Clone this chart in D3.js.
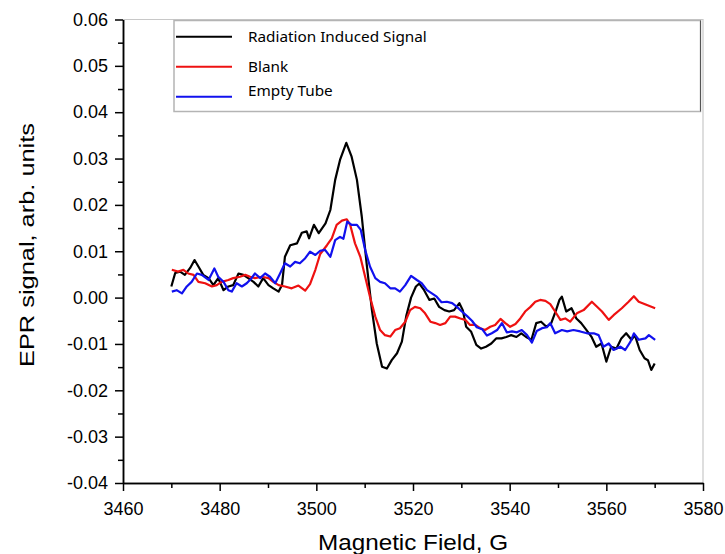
<!DOCTYPE html>
<html>
<head>
<meta charset="utf-8">
<script src="https://cdn.jsdelivr.net/npm/d3@7"></script>
<style>
  body { margin: 0; background: #fff; }
  .tick text { font-family: "Liberation Sans", Arial, sans-serif; font-size: 18px; fill: #000; }
  .axis path, .axis line { stroke: #000; stroke-width: 1.5px; }
  .legend text { font-family: "Noto Sans", "Open Sans", sans-serif; font-size: 15.3px; fill: #000; }
</style>
</head>
<body>
<div id="chart"></div>
<script>
// Set up SVG chart
var svgWidth = 725;
var svgHeight = 554;

var margin = { top: 19.5, right: 22, bottom: 71, left: 123 };
var chartWidth = svgWidth - margin.left - margin.right;
var chartHeight = svgHeight - margin.top - margin.bottom;

// Data (field in G, signal in arb. units)
var radiationField = [3470.0, 3470.8, 3471.8, 3472.8, 3473.9, 3474.8, 3475.6, 3476.6, 3477.7, 3478.7, 3479.7, 3480.8, 3481.8, 3482.8, 3483.9, 3484.9, 3485.9, 3487.0, 3488.0, 3489.0, 3490.1, 3491.1, 3492.2, 3492.9, 3493.5, 3494.6, 3496.0, 3497.0, 3498.0, 3498.5, 3499.5, 3500.5, 3501.9, 3502.9, 3503.9, 3504.9, 3506.2, 3507.3, 3508.4, 3509.4, 3510.4, 3511.5, 3512.5, 3513.6, 3514.6, 3515.6, 3516.7, 3517.7, 3518.6, 3519.6, 3520.6, 3521.3, 3522.3, 3523.4, 3524.4, 3525.4, 3526.5, 3527.5, 3528.5, 3529.6, 3530.3, 3531.0, 3532.0, 3533.1, 3534.1, 3535.1, 3536.2, 3537.2, 3538.3, 3539.3, 3540.3, 3541.4, 3542.4, 3543.4, 3544.5, 3545.5, 3546.5, 3547.6, 3548.6, 3549.6, 3550.3, 3550.8, 3551.7, 3552.8, 3553.8, 3554.8, 3555.9, 3556.9, 3557.9, 3559.0, 3560.0, 3561.0, 3562.1, 3563.1, 3564.1, 3565.2, 3565.9, 3566.9, 3567.9, 3568.6, 3569.3, 3570.0];
var radiationSignal = [0.0024, 0.0053, 0.0056, 0.0049, 0.0064, 0.0081, 0.0067, 0.0049, 0.0042, 0.0027, 0.0042, 0.0016, 0.0024, 0.0027, 0.0052, 0.0049, 0.0042, 0.0034, 0.0024, 0.0042, 0.0027, 0.0020, 0.0013, 0.0027, 0.0088, 0.0113, 0.0117, 0.0140, 0.0143, 0.0128, 0.0157, 0.0139, 0.0160, 0.0189, 0.0254, 0.0297, 0.0334, 0.0304, 0.0254, 0.0175, 0.0074, -0.0027, -0.0099, -0.0149, -0.0153, -0.0135, -0.0120, -0.0095, -0.0040, 0.0000, 0.0024, 0.0030, 0.0016, -0.0005, -0.0002, -0.0020, -0.0027, -0.0030, -0.0027, -0.0012, -0.0027, -0.0063, -0.0073, -0.0102, -0.0110, -0.0106, -0.0099, -0.0088, -0.0088, -0.0085, -0.0081, -0.0085, -0.0077, -0.0085, -0.0091, -0.0055, -0.0052, -0.0063, -0.0055, -0.0027, -0.0005, 0.0002, -0.0030, -0.0023, -0.0045, -0.0055, -0.0070, -0.0084, -0.0106, -0.0099, -0.0138, -0.0106, -0.0110, -0.0088, -0.0077, -0.0091, -0.0081, -0.0113, -0.0131, -0.0135, -0.0156, -0.0142];

var blankField = [3470.1, 3471.4, 3472.5, 3473.5, 3474.6, 3475.6, 3477.0, 3478.4, 3479.4, 3480.4, 3481.8, 3482.8, 3484.2, 3485.3, 3486.3, 3487.3, 3488.7, 3490.1, 3491.1, 3492.2, 3493.5, 3494.9, 3496.3, 3497.7, 3498.7, 3499.8, 3500.8, 3502.2, 3503.2, 3504.2, 3505.3, 3506.3, 3507.0, 3508.0, 3509.1, 3510.1, 3511.1, 3512.2, 3513.2, 3514.2, 3515.3, 3516.3, 3517.3, 3518.4, 3519.4, 3520.4, 3521.5, 3522.5, 3523.6, 3524.6, 3525.6, 3526.7, 3527.7, 3528.7, 3529.8, 3530.8, 3531.8, 3532.9, 3533.9, 3534.9, 3536.0, 3537.0, 3538.1, 3539.1, 3540.1, 3541.2, 3542.2, 3543.2, 3544.3, 3545.3, 3546.3, 3547.4, 3548.4, 3549.4, 3550.5, 3551.5, 3552.5, 3553.9, 3555.3, 3557.0, 3557.7, 3559.1, 3560.5, 3561.5, 3563.2, 3564.6, 3565.7, 3566.7, 3568.4, 3570.1];
var blankSignal = [0.0060, 0.0056, 0.0060, 0.0052, 0.0049, 0.0034, 0.0031, 0.0024, 0.0027, 0.0034, 0.0038, 0.0042, 0.0045, 0.0049, 0.0045, 0.0042, 0.0045, 0.0042, 0.0034, 0.0027, 0.0024, 0.0020, 0.0026, 0.0015, 0.0029, 0.0060, 0.0094, 0.0113, 0.0128, 0.0157, 0.0166, 0.0169, 0.0157, 0.0117, 0.0088, 0.0045, 0.0002, -0.0041, -0.0070, -0.0081, -0.0084, -0.0070, -0.0066, -0.0052, -0.0027, -0.0020, -0.0023, -0.0034, -0.0052, -0.0055, -0.0059, -0.0055, -0.0041, -0.0041, -0.0045, -0.0048, -0.0059, -0.0059, -0.0066, -0.0070, -0.0063, -0.0059, -0.0046, -0.0055, -0.0063, -0.0057, -0.0045, -0.0030, -0.0020, -0.0009, -0.0005, -0.0007, -0.0014, -0.0030, -0.0048, -0.0045, -0.0052, -0.0034, -0.0027, -0.0009, -0.0016, -0.0030, -0.0048, -0.0038, -0.0023, -0.0009, 0.0003, -0.0009, -0.0016, -0.0023];

var tubeField = [3470.1, 3471.1, 3472.2, 3473.2, 3474.2, 3475.3, 3476.3, 3477.7, 3478.9, 3479.7, 3480.8, 3481.8, 3482.5, 3483.5, 3484.6, 3485.6, 3486.6, 3487.3, 3488.4, 3489.4, 3490.4, 3491.5, 3492.5, 3493.5, 3494.6, 3495.6, 3496.6, 3497.7, 3498.7, 3499.8, 3500.8, 3501.8, 3502.9, 3503.9, 3504.9, 3505.6, 3506.4, 3507.3, 3508.4, 3509.2, 3510.1, 3511.1, 3512.2, 3513.2, 3514.2, 3515.3, 3516.3, 3517.3, 3518.4, 3519.6, 3520.8, 3521.8, 3522.9, 3523.9, 3524.9, 3525.9, 3527.0, 3528.1, 3529.1, 3530.1, 3531.2, 3532.2, 3533.2, 3534.3, 3535.3, 3536.3, 3537.4, 3538.4, 3539.4, 3540.5, 3541.5, 3542.5, 3543.6, 3544.6, 3545.6, 3546.7, 3547.7, 3548.4, 3549.4, 3550.8, 3551.9, 3553.2, 3554.6, 3556.0, 3557.4, 3558.4, 3559.4, 3560.5, 3561.5, 3562.9, 3563.9, 3565.0, 3565.7, 3566.7, 3568.1, 3568.8, 3570.1];
var tubeSignal = [0.0013, 0.0016, 0.0009, 0.0024, 0.0034, 0.0052, 0.0049, 0.0038, 0.0063, 0.0045, 0.0034, 0.0016, 0.0013, 0.0031, 0.0024, 0.0031, 0.0042, 0.0052, 0.0042, 0.0052, 0.0045, 0.0031, 0.0052, 0.0074, 0.0067, 0.0077, 0.0074, 0.0085, 0.0099, 0.0092, 0.0101, 0.0103, 0.0088, 0.0124, 0.0131, 0.0127, 0.0164, 0.0157, 0.0157, 0.0146, 0.0103, 0.0067, 0.0042, 0.0034, 0.0031, 0.0020, 0.0020, 0.0013, 0.0027, 0.0047, 0.0038, 0.0031, 0.0016, 0.0009, 0.0002, -0.0010, -0.0009, -0.0012, -0.0020, -0.0030, -0.0040, -0.0050, -0.0064, -0.0068, -0.0082, -0.0077, -0.0070, -0.0055, -0.0075, -0.0073, -0.0075, -0.0070, -0.0081, -0.0097, -0.0072, -0.0066, -0.0064, -0.0055, -0.0077, -0.0070, -0.0073, -0.0070, -0.0073, -0.0077, -0.0077, -0.0081, -0.0106, -0.0099, -0.0113, -0.0106, -0.0113, -0.0095, -0.0077, -0.0091, -0.0088, -0.0081, -0.0091];

// Tick values
var xTicks = [3460, 3480, 3500, 3520, 3540, 3560, 3580];
var xMinorTicks = [3470, 3490, 3510, 3530, 3550, 3570];
var yTicks = [-0.04, -0.03, -0.02, -0.01, 0.00, 0.01, 0.02, 0.03, 0.04, 0.05, 0.06];
var yMinorTicks = [-0.035, -0.025, -0.015, -0.005, 0.005, 0.015, 0.025, 0.035, 0.045, 0.055];

var seriesNames = ["Radiation Induced Signal", "Blank", "Empty Tube"];
var seriesColors = ["#000000", "#ee1111", "#1111ee"];

// Create an SVG element wrapper
var svg = d3.select("#chart")
  .append("svg")
  .attr("width", svgWidth)
  .attr("height", svgHeight);

var chartGroup = svg.append("g")
  .attr("transform", `translate(${margin.left}, ${margin.top})`);

// Scales
var xLinearScale = d3.scaleLinear().domain([3460, 3580]).range([0, chartWidth]);
var yLinearScale = d3.scaleLinear().domain([-0.04, 0.06]).range([chartHeight, 0]);

// Light frame on top and right
chartGroup.append("path")
  .attr("d", `M0,0H${chartWidth}V${chartHeight}`)
  .attr("fill", "none")
  .attr("stroke", "#c8c8c8")
  .attr("stroke-width", 1.2);

// Curves
var lineGen = d3.line()
  .x(d => xLinearScale(d[0]))
  .y(d => yLinearScale(d[1]));

var series = [
  d3.zip(radiationField, radiationSignal),
  d3.zip(blankField, blankSignal),
  d3.zip(tubeField, tubeSignal)
];

series.forEach(function(pts, i) {
  chartGroup.append("path")
    .datum(pts)
    .attr("d", lineGen)
    .attr("fill", "none")
    .attr("stroke", seriesColors[i])
    .attr("stroke-width", 2.2)
    .attr("stroke-linejoin", "round");
});

// Axes (major + minor ticks)
var xAxis = chartGroup.append("g")
  .attr("class", "axis")
  .attr("transform", `translate(0, ${chartHeight})`)
  .call(d3.axisBottom(xLinearScale).tickValues(xTicks).tickSize(8).tickSizeOuter(0).tickPadding(11).tickFormat(d3.format("d")));

chartGroup.append("g")
  .attr("class", "axis")
  .attr("transform", `translate(0, ${chartHeight})`)
  .call(d3.axisBottom(xLinearScale).tickValues(xMinorTicks).tickSize(5).tickSizeOuter(0).tickFormat(""));

var yAxis = chartGroup.append("g")
  .attr("class", "axis")
  .call(d3.axisLeft(yLinearScale).tickValues(yTicks).tickSize(8).tickSizeOuter(0).tickPadding(7).tickFormat(d => d.toFixed(2)));

chartGroup.append("g")
  .attr("class", "axis")
  .call(d3.axisLeft(yLinearScale).tickValues(yMinorTicks).tickSize(5).tickSizeOuter(0).tickFormat(""));

// Axis titles
svg.append("text")
  .attr("x", margin.left + chartWidth / 2)
  .attr("y", 550)
  .attr("text-anchor", "middle")
  .attr("textLength", 190)
  .attr("lengthAdjust", "spacingAndGlyphs")
  .style("font-family", "Liberation Sans, Arial, sans-serif")
  .style("font-size", "22px")
  .text("Magnetic Field, G");

svg.append("text")
  .attr("transform", "translate(33.5, 245) rotate(-90)")
  .attr("text-anchor", "middle")
  .attr("textLength", 244)
  .attr("lengthAdjust", "spacingAndGlyphs")
  .style("font-family", "Liberation Sans, Arial, sans-serif")
  .style("font-size", "21px")
  .text("EPR signal, arb. units");

// Legend
var legend = svg.append("g").attr("class", "legend");

legend.append("rect")
  .attr("x", 174)
  .attr("y", 20.5)
  .attr("width", 526.5)
  .attr("height", 91)
  .attr("fill", "#fff")
  .attr("stroke", "#b4b4b4")
  .attr("stroke-width", 1.5);

legend.append("line")
  .attr("x1", 700.5).attr("x2", 700.5)
  .attr("y1", 20.5).attr("y2", 111.5)
  .attr("stroke", "#555")
  .attr("stroke-width", 1);

var legendLineY = [36.7, 66.7, 96.7];
var legendTextY = [41.7, 71.7, 96];

seriesNames.forEach(function(name, i) {
  legend.append("line")
    .attr("x1", 176).attr("x2", 232)
    .attr("y1", legendLineY[i]).attr("y2", legendLineY[i])
    .attr("stroke", seriesColors[i])
    .attr("stroke-width", 2);
  legend.append("text")
    .attr("x", 248)
    .attr("y", legendTextY[i])
    .text(name);
});
</script>
</body>
</html>
